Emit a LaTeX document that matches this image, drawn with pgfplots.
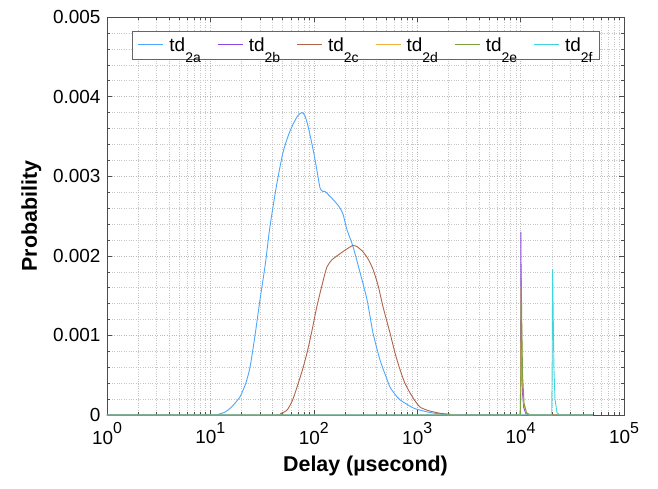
\documentclass[border=0pt]{standalone}
\usepackage{pgfplots}
\pgfplotsset{compat=1.18}
\usetikzlibrary{calc}
\usepackage{fontspec}
\setmainfont{Liberation Sans}
\definecolor{cA}{RGB}{77,166,255}
\definecolor{cB}{RGB}{140,70,225}
\definecolor{cC}{RGB}{178,98,70}
\definecolor{cD}{RGB}{236,178,58}
\definecolor{cE}{RGB}{122,160,60}
\definecolor{cF}{RGB}{60,214,224}
\newcommand{\tl}[1]{10\raisebox{0.55em}{\fontsize{16}{16}\selectfont #1}}
% legend entry: coloured sample line, then td with a lowered index
\newcommand{\td}[2]{\textcolor{#1}{\rule[0.32em]{25bp}{1bp}}\hspace{6bp}td\raisebox{-0.6em}{\fontsize{14}{14}\selectfont #2}}
\newcommand{\gap}{\rule{13bp}{0pt}}
\begin{document}
\begin{tikzpicture}
\begin{axis}[
  scale only axis, width=517bp, height=398bp,
  xmode=log, xmin=1, xmax=100000, ymin=0, ymax=0.005,
  xtick={1,10,100,1000,10000,100000},
  xticklabels={\tl{0},\tl{1},\tl{2},\tl{3},\tl{4},\tl{5}},
  ytick={0,0.001,0.002,0.003,0.004,0.005},
  yticklabels={0,0.001,0.002,0.003,0.004,0.005},
  scaled y ticks=false,
  minor y tick num=4,
  tick align=inside, tick pos=both,
  major tick length=5bp, minor tick length=3bp,
  grid=both,
  major grid style={dotted, gray!55, line width=0.45pt},
  minor grid style={dotted, gray!45, line width=0.4pt},
  axis line style={black!70, line width=0.6pt},
  every tick/.style={black!70},
  tick label style={font=\fontsize{19}{19}\selectfont},
  yticklabel style={xshift=-3bp},
  xticklabel style={yshift=-4bp},
  xlabel={\bfseries Delay (µsecond)},
  ylabel={\bfseries Probability},
  label style={font=\fontsize{21.5}{21.5}\selectfont},
  xlabel style={yshift=-5bp},
  ylabel style={yshift=5bp},
  legend columns=6,
  legend image code/.code={},
  legend style={at={(0.5,0.965)}, anchor=north, draw=black!60, fill=white,
    font=\fontsize{19}{19}\selectfont, inner sep=4.5bp,
    /tikz/every even column/.append style={column sep=0bp},
    /tikz/every odd column/.append style={column sep=0bp}},
  every axis plot/.append style={line width=0.9pt},
]
\addplot[color=cA, smooth, tension=0.4] coordinates {
(1,0)(10,0)(12,0.00001)(14,0.00004)(16,0.0001)(19.3,0.000227)(22,0.0004)
(24.2,0.000605)(27,0.001)(30.2,0.00145)(34,0.0019)(37.7,0.00237)(44.1,0.00292)
(50.4,0.0033)(57,0.00352)(62.9,0.00365)(70,0.00376)(76.9,0.0038)(82,0.00376)
(87.9,0.00363)(98.3,0.00334)(108,0.00305)(115,0.00285)(122,0.00281)(128,0.00281)
(140,0.00276)(153,0.00271)(175,0.00262)(192,0.00252)(209,0.00233)(239,0.00212)
(280,0.00179)(327,0.00145)(374,0.00103)(437,0.00069)(500,0.00048)(546,0.00035)
(610,0.00026)(682,0.00019)(911,0.00009)(1150,0.00005)(1422,0.000025)(1941,0.000005)
(2500,0)(50000,0)};
\addplot[color=cB] coordinates {
(1,0)(9900,0)(10000,0.0004)(10050,0.0023)(10150,0.0015)(10250,0.0008)(10400,0.0003)
(10700,0.0001)(11200,0.00002)(12000,0)(50000,0)};
\addplot[color=cC, smooth, tension=0.4] coordinates {
(1,0)(40,0)(48,0.00002)(55,0.00006)(62,0.00018)(68.8,0.00035)(77,0.00055)(86,0.00078)
(96,0.00106)(107,0.00136)(120,0.00163)(134,0.00186)(150,0.00195)(168,0.002)(200,0.00207)
(239,0.00213)(265,0.00211)(299,0.00205)(335,0.00196)(374,0.00183)(420,0.00162)
(467,0.00136)(546,0.00103)(610,0.00078)(682,0.00057)(760,0.0004)(851,0.00028)
(950,0.00018)(1064,0.0001)(1250,0.00006)(1422,0.00004)(1700,0.00002)(2075,0.00001)
(2500,0)(50000,0)};
\addplot[color=cD] coordinates {
(1,0)(9950,0)(10050,0.0005)(10120,0.0016)(10250,0.001)(10400,0.0005)(10700,0.00015)
(11300,0.00003)(12200,0)(50000,0)};
\addplot[color=cE] coordinates {
(1,0)(9950,0)(10080,0.0005)(10150,0.00172)(10280,0.0011)(10450,0.0005)(10800,0.00015)
(11400,0.00003)(12300,0)(50000,0)};
\addplot[color=cF] coordinates {
(1,0)(20000,0)(20200,0.0006)(20400,0.00183)(20700,0.0012)(21000,0.0006)(21500,0.0002)
(22500,0.00003)(24000,0)(50000,0)};
\legend{\td{cA}{2a}\gap,\td{cB}{2b}\gap,\td{cC}{2c}\gap,
  \td{cD}{2d}\gap,\td{cE}{2e}\gap,\td{cF}{2f}}
\end{axis}
\path ($(current axis.south west)+(-107bp,-74bp)$) ($(current axis.north east)+(34bp,17bp)$);
\end{tikzpicture}
\end{document}
